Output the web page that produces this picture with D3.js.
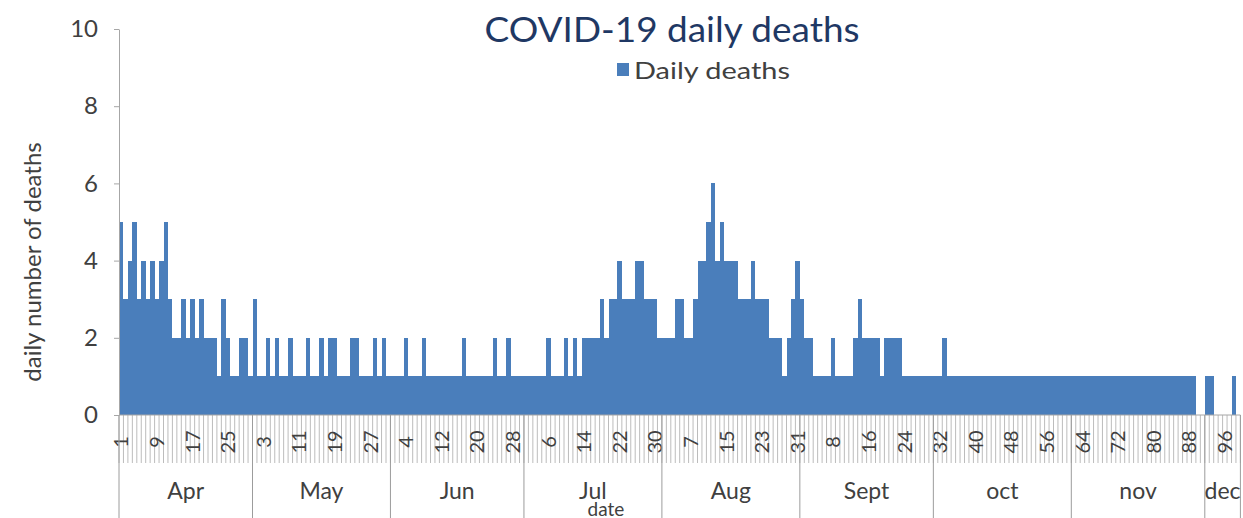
<!DOCTYPE html>
<html>
<head>
<meta charset="utf-8">
<title>COVID-19 daily deaths</title>
<script src="https://d3js.org/d3.v7.min.js"></script>
<style>
    body { margin: 0; background: #fff; }
    svg text { font-family: Lato, "Open Sans", sans-serif; fill: #404040; }
</style>
</head>
<body>
<script>
    // daily deaths, one array per month (Apr 1 .. Dec 8)
    let monthNames = ["Apr", "May", "Jun", "Jul", "Aug", "Sept", "oct", "nov", "dec"];
    let apr = [5,3,4,5,3,4,3,4,3,4, 5,3,2,2,3,2,3,2,3,2, 2,2,1,3,2,1,1,2,2,1];
    let may = [3,1,1,2,1,2,1,1,2,1, 1,1,2,1,1,2,1,2,2,1, 1,1,2,2,1,1,1,2,1,2, 1];
    let jun = [1,1,1,2,1,1,1,2,1,1, 1,1,1,1,1,1,2,1,1,1, 1,1,1,2,1,1,2,1,1,1];
    let jul = [1,1,1,1,1,2,1,1,1,2, 1,2,1,2,2,2,2,3,2,3, 3,4,3,3,3,4,4,3,3,3, 2];
    let aug = [2,2,2,3,3,2,2,3,4,4, 5,6,4,5,4,4,4,3,3,3, 4,3,3,3,2,2,2,1,2,3, 4];
    let sep = [3,2,2,1,1,1,1,2,1,1, 1,1,2,3,2,2,2,2,1,2, 2,2,2,1,1,1,1,1,1,1];
    let oct = [1,1,2,1,1,1,1,1,1,1, 1,1,1,1,1,1,1,1,1,1, 1,1,1,1,1,1,1,1,1,1, 1];
    let nov = [1,1,1,1,1,1,1,1,1,1, 1,1,1,1,1,1,1,1,1,1, 1,1,1,1,1,1,1,1,0,0];
    let dec = [1,1,0,0,0,0,1,0];

    // every 8th category label as printed on the axis
    let tickLabels = ["1","9","17","25","3","11","19","27","4","12","20","28","6","14","22","30",
                      "7","15","23","31","8","16","24","32","40","48","56","64","72","80","88","96"];
    let yTicks = [0, 2, 4, 6, 8, 10];

    let months = [apr, may, jun, jul, aug, sep, oct, nov, dec];
    let deaths = months.flat();

    let width = 1243, height = 518;
    let marginLeft = 119, marginTop = 29, plotH = 386, step = 4.45;
    let plotW = deaths.length * step;
    let base = marginTop + plotH;

    let svg = d3.select("body")
        .append("svg")
            .attr("width", width)
            .attr("height", height);

    let x = d3.scaleBand()
        .domain(d3.range(deaths.length))
        .range([marginLeft, marginLeft + plotW])
        .padding(0);

    let y = d3.scaleLinear()
        .domain([0, 10])
        .range([base, marginTop]);

    // bars
    svg.append("g")
        .attr("shape-rendering", "crispEdges")
        .selectAll("rect")
        .data(deaths)
        .join("rect")
            .attr("x", (d, i) => x(i))
            .attr("width", x.bandwidth())
            .attr("y", d => y(d))
            .attr("height", d => y(0) - y(d))
            .attr("fill", "#4a7ebb");

    // y axis
    let yAxis = svg.append("g")
        .attr("transform", `translate(${marginLeft},0)`)
        .call(d3.axisLeft(y).tickValues(yTicks).tickSize(5).tickSizeOuter(0).tickPadding(16));
    yAxis.select(".domain").attr("stroke", "#a6a6a6");
    yAxis.selectAll(".tick line").attr("stroke", "#a6a6a6");
    yAxis.selectAll(".tick text").style("font-size", "24px").attr("fill", "#404040");

    // category tick lines (hatched band under the bars)
    let edges = d3.range(deaths.length + 1);
    let edgeX = i => i < deaths.length ? x(i) : x.range()[1];
    svg.append("g")
        .selectAll("line")
        .data(edges)
        .join("line")
            .attr("x1", i => edgeX(i))
            .attr("x2", i => edgeX(i))
            .attr("y1", base)
            .attr("y2", base + 48)
            .attr("stroke", "#bcbcbc")
            .attr("stroke-width", 1);

    // x axis line
    svg.append("line")
        .attr("x1", marginLeft).attr("x2", x.range()[1])
        .attr("y1", base).attr("y2", base)
        .attr("stroke", "#a6a6a6");

    // day labels, rotated
    let tickIdx = tickLabels.map((d, k) => k * 8);
    let xAxis = svg.append("g")
        .attr("transform", `translate(0,${base})`)
        .call(d3.axisBottom(x).tickValues(tickIdx).tickSize(0)
            .tickFormat((d, k) => tickLabels[k]));
    xAxis.select(".domain").remove();
    xAxis.selectAll(".tick text")
        .attr("transform", "rotate(-90)")
        .attr("text-anchor", "middle")
        .attr("x", -27)
        .attr("y", 0)
        .attr("dy", "0.36em")
        .style("font-size", "20px")
        .attr("fill", "#333");

    // month groups
    let starts = [0, ...d3.cumsum(months.map(m => m.length))];
    svg.append("g")
        .selectAll("line")
        .data(starts)
        .join("line")
            .attr("x1", i => edgeX(i))
            .attr("x2", i => edgeX(i))
            .attr("y1", base)
            .attr("y2", height)
            .attr("stroke", "#9c9c9c");

    svg.append("g")
        .selectAll("text")
        .data(monthNames)
        .join("text")
            .attr("x", (d, k) => (edgeX(starts[k]) + edgeX(starts[k + 1])) / 2)
            .attr("y", 499)
            .attr("text-anchor", "middle")
            .style("font-size", "23px")
            .text(d => d);

    svg.append("text")
        .attr("x", 606)
        .attr("y", 516)
        .attr("text-anchor", "middle")
        .style("font-size", "19px")
        .text("date");

    svg.append("text")
        .attr("transform", "translate(41,262) rotate(-90)")
        .attr("text-anchor", "middle")
        .style("font-size", "24px")
        .text("daily number of deaths");

    // title and legend
    svg.append("text")
        .attr("x", 672)
        .attr("y", 42)
        .attr("text-anchor", "middle")
        .attr("textLength", 375)
        .attr("lengthAdjust", "spacingAndGlyphs")
        .style("font-size", "34px")
        .style("fill", "#1f3864")
        .text("COVID-19 daily deaths");

    svg.append("rect")
        .attr("x", 617).attr("y", 63)
        .attr("width", 12).attr("height", 13)
        .attr("fill", "#4a7ebb");

    svg.append("text")
        .attr("x", 634)
        .attr("y", 79)
        .attr("textLength", 156)
        .attr("lengthAdjust", "spacingAndGlyphs")
        .style("font-size", "23px")
        .text("Daily deaths");
</script>
</body>
</html>
